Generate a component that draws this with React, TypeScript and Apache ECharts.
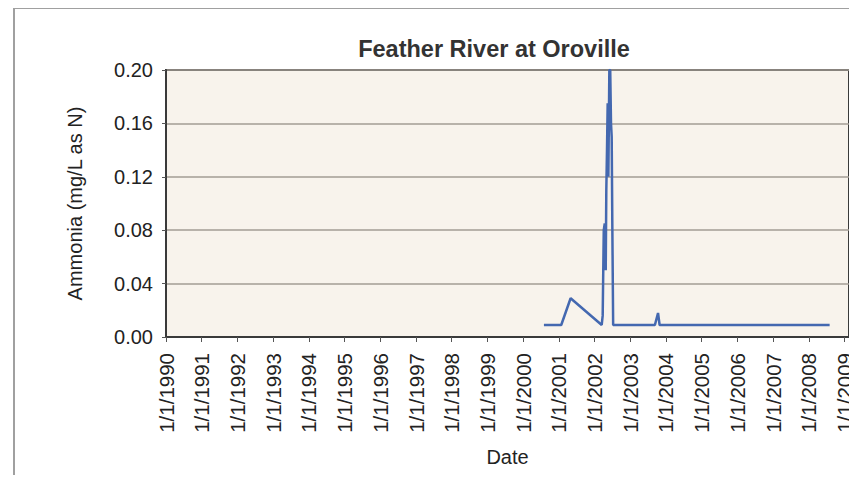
import React, { useEffect, useRef } from "react";
import * as echarts from "echarts";

const sampleDates = [
  "2000-08-01", "2001-01-25", "2001-05-01", "2002-03-15", "2002-03-25",
  "2002-04-05", "2002-04-15", "2002-04-25", "2002-05-01", "2002-05-08",
  "2002-05-15", "2002-05-22", "2002-06-01", "2002-06-10", "2002-06-18",
  "2002-06-25", "2002-07-02", "2002-07-10", "2003-09-10", "2003-10-12",
  "2003-10-28", "2008-08-01",
];
const ammonia = [
  0.009, 0.009, 0.029, 0.009, 0.016,
  0.08, 0.085, 0.05, 0.11, 0.14,
  0.175, 0.12, 0.2, 0.2, 0.16,
  0.15, 0.08, 0.009, 0.009, 0.018,
  0.009, 0.009,
];
const yTicks = [0, 0.04, 0.08, 0.12, 0.16, 0.2];
const axisStart = "1990-01-01";
const axisEnd = "2009-02-15";

const FONT = "'Liberation Sans', Arial, sans-serif";

export default function App() {
  const ref = useRef<HTMLDivElement>(null);
  useEffect(() => {
    if (!ref.current) return;
    const chart = echarts.init(ref.current, null, { renderer: "svg" });
    const yearMs = 365.25 * 24 * 3600 * 1000;
    chart.setOption({
      animation: false,
      backgroundColor: "#ffffff",
      title: {
        text: "Feather River at Oroville",
        left: 489,
        top: 32,
        textAlign: "center",
        textStyle: { fontFamily: FONT, fontSize: 23.5, fontWeight: "bold", color: "#333" },
      },
      grid: { left: 166, right: 8, top: 70, bottom: 146, show: true, backgroundColor: "#F8F3EC", borderColor: "#3a3a3a", borderWidth: 2 },
      xAxis: {
        type: "time",
        min: new Date(axisStart + "T00:00:00").getTime(),
        max: new Date(axisEnd + "T00:00:00").getTime(),
        splitNumber: 19,
        minInterval: yearMs * 0.9,
        maxInterval: yearMs * 1.1,
        name: "Date",
        nameLocation: "middle",
        nameGap: 110,
        nameTextStyle: { fontFamily: FONT, fontSize: 20, color: "#222" },
        axisLine: { show: true, lineStyle: { color: "#3a3a3a", width: 2 } },
        axisTick: { show: true, length: 5, lineStyle: { color: "#555" } },
        splitLine: { show: false },
        axisLabel: {
          rotate: 90,
          margin: 16,
          fontFamily: FONT,
          fontSize: 20.5,
          color: "#222",
          formatter: (v: number) => {
            const d = new Date(v);
            return `${d.getMonth() + 1}/${d.getDate()}/${d.getFullYear()}`;
          },
        },
      },
      yAxis: {
        type: "value",
        min: yTicks[0],
        max: yTicks[yTicks.length - 1],
        interval: 0.04,
        name: "Ammonia (mg/L as N)",
        nameLocation: "middle",
        nameGap: 81,
        nameTextStyle: { fontFamily: FONT, fontSize: 20, color: "#222" },
        axisLine: { show: true, lineStyle: { color: "#3a3a3a", width: 2 } },
        axisTick: { show: true, length: 4, lineStyle: { color: "#555" } },
        splitLine: { show: true, lineStyle: { color: "#a39d95", width: 1.5 } },
        axisLabel: {
          margin: 13,
          fontFamily: FONT,
          fontSize: 20,
          color: "#222",
          formatter: (v: number) => v.toFixed(2),
        },
      },
      graphic: [
        { type: "line", shape: { x1: 14, y1: 8, x2: 857, y2: 8 }, style: { stroke: "#a0a0a0", lineWidth: 2 } },
        { type: "line", shape: { x1: 14, y1: 8, x2: 14, y2: 483 }, style: { stroke: "#a0a0a0", lineWidth: 2 } },
      ],
      series: [
        {
          type: "line",
          data: sampleDates.map((d, i) => [d, ammonia[i]]),
          showSymbol: false,
          symbol: "none",
          lineStyle: { color: "#4468B0", width: 2.5 },
          itemStyle: { color: "#4468B0" },
        },
      ],
    });
    return () => chart.dispose();
  }, []);
  return <div ref={ref} style={{ width: 857, height: 483, margin: -8 }} />;
}
